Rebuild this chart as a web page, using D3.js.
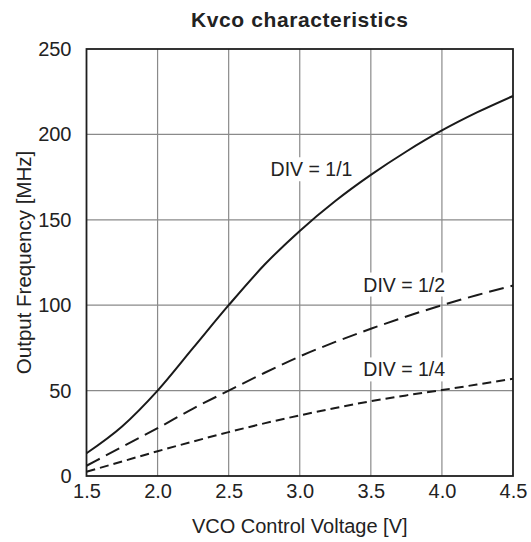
<!DOCTYPE html>
<html>
<head>
<meta charset="utf-8">
<script src="https://cdn.jsdelivr.net/npm/d3@7"></script>
<style>
  body { margin: 0; background: #fff; }
  text { font-family: "Liberation Sans", Arial, sans-serif; fill: #222; }
</style>
</head>
<body>
<svg id="chart" width="531" height="542"></svg>
<script>
// control voltage [V]
let voltage = [1.5, 1.75, 2.0, 2.25, 2.5, 2.75, 3.0, 3.25, 3.5, 3.75, 4.0, 4.25, 4.5];
// output frequency [MHz] per divider setting
let div1 = [13.3, 29, 50, 75, 100, 123.5, 143.5, 161, 176.3, 190, 202.3, 213, 222.5];
let div2 = [6, 17, 28, 39.5, 50, 60.3, 70, 78.5, 86.2, 93.4, 100, 106, 111.5];
let div4 = [2.5, 8.5, 14.5, 20.2, 25.7, 30.8, 35.5, 39.8, 43.8, 47.2, 50.3, 53.6, 57];

let xTicks = [1.5, 2.0, 2.5, 3.0, 3.5, 4.0, 4.5];
let yTicks = [0, 50, 100, 150, 200, 250];

let seriesNames = ["DIV = 1/1", "DIV = 1/2", "DIV = 1/4"];
let seriesValues = [div1, div2, div4];
let labelAt = [[2.795, 175.5], [3.447, 108], [3.447, 58.3]];

let margin = { top: 49, left: 86.5, right: 18, bottom: 66 };
let width = 531, height = 542;

let svg = d3.select("#chart");

let x = d3.scaleLinear()
    .domain([1.5, 4.5])
    .range([margin.left, width - margin.right]);

let y = d3.scaleLinear()
    .domain([0, 250])
    .range([height - margin.bottom, margin.top]);

// grid
svg.append("g")
    .selectAll("line.vgrid")
    .data(xTicks.slice(1, -1))
    .enter()
    .append("line")
    .attr("x1", d => x(d)).attr("x2", d => x(d))
    .attr("y1", y(0)).attr("y2", y(250))
    .attr("stroke", "#8a8a8a")
    .attr("stroke-width", 1.2);

svg.append("g")
    .selectAll("line.hgrid")
    .data(yTicks.slice(1, -1))
    .enter()
    .append("line")
    .attr("x1", x(1.5)).attr("x2", x(4.5))
    .attr("y1", d => y(d)).attr("y2", d => y(d))
    .attr("stroke", "#8a8a8a")
    .attr("stroke-width", 1.2);

// axes, tick marks hidden, labels only
let xAxis = svg.append("g")
    .attr("transform", `translate(0,${y(0)})`)
    .call(d3.axisBottom(x).tickValues(xTicks).tickFormat(d3.format(".1f")).tickSize(0).tickPadding(8));

let yAxis = svg.append("g")
    .attr("transform", `translate(${x(1.5)},0)`)
    .call(d3.axisLeft(y).tickValues(yTicks).tickSize(0).tickPadding(15));

[xAxis, yAxis].forEach(a => {
    a.select(".domain").remove();
    a.selectAll("text")
        .style("font-size", "20px")
        .attr("fill", "#222");
});

// frame
svg.append("rect")
    .attr("x", x(1.5))
    .attr("y", y(250))
    .attr("width", x(4.5) - x(1.5))
    .attr("height", y(0) - y(250))
    .attr("fill", "none")
    .attr("stroke", "#1e1e1e")
    .attr("stroke-width", 1.8);

// series labels, with a white box that hides the grid behind the text
let labelGroups = svg.append("g")
    .selectAll("g")
    .data(seriesNames)
    .enter()
    .append("g");

labelGroups.append("rect").attr("fill", "#fff");

labelGroups.append("text")
    .attr("x", (d, i) => x(labelAt[i][0]))
    .attr("y", (d, i) => y(labelAt[i][1]))
    .style("font-size", "19.5px")
    .text(d => d);

labelGroups.each(function() {
    let g = d3.select(this);
    let bb = g.select("text").node().getBBox();
    g.select("rect")
        .attr("x", bb.x - 3)
        .attr("y", bb.y - 1)
        .attr("width", bb.width + 6)
        .attr("height", bb.height + 2);
});

// curves
let line = d3.line()
    .x((d, i) => x(voltage[i]))
    .y(d => y(d))
    .curve(d3.curveMonotoneX);

let dashes = [null, "15,7", "9,5"];

svg.append("g")
    .selectAll("path")
    .data(seriesValues)
    .enter()
    .append("path")
    .attr("d", line)
    .attr("fill", "none")
    .attr("stroke", "#1a1a1a")
    .attr("stroke-width", 2)
    .attr("stroke-dasharray", (d, i) => dashes[i]);

// titles
svg.append("text")
    .attr("x", (x(1.5) + x(4.5)) / 2)
    .attr("y", 27)
    .attr("text-anchor", "middle")
    .style("font-size", "21px")
    .style("font-weight", "bold")
    .style("letter-spacing", "0.6px")
    .text("Kvco characteristics");

svg.append("text")
    .attr("x", (x(1.5) + x(4.5)) / 2)
    .attr("y", 533)
    .attr("text-anchor", "middle")
    .style("font-size", "20px")
    .text("VCO Control Voltage [V]");

svg.append("text")
    .attr("transform", `translate(31,${(y(0) + y(250)) / 2}) rotate(-90)`)
    .attr("text-anchor", "middle")
    .style("font-size", "20.5px")
    .text("Output Frequency [MHz]");
</script>
</body>
</html>
